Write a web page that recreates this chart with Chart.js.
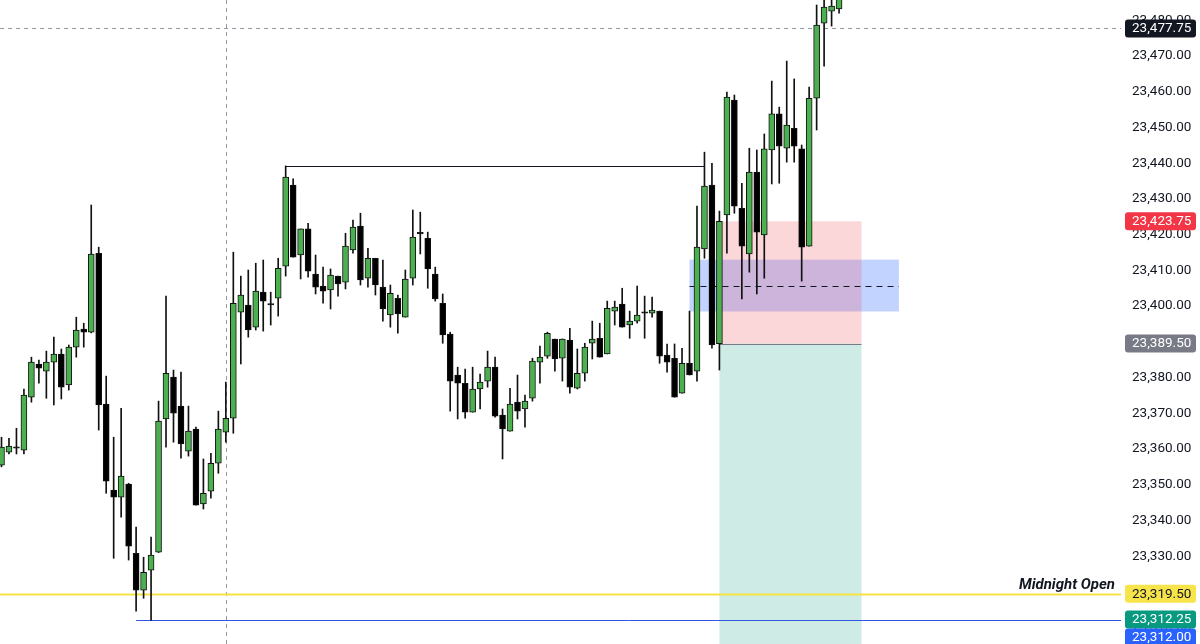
<!DOCTYPE html>
<html>
<head>
<meta charset="utf-8">
<script src="https://cdn.jsdelivr.net/npm/chart.js@4.4.1/dist/chart.umd.min.js"></script>
<style>
  html, body { margin: 0; padding: 0; background: #fff; }
  #wrap { width: 1200px; height: 644px; position: relative; }
</style>
</head>
<body>
<div id="wrap"><canvas id="priceChart"></canvas></div>
<script>
// candle values (1 candle = 1 slot)
const opens = [
  23355.5, 23359.1, 23360.2, 23359.7, 23374.5, 23383.8, 23381.8, 23384.3, 23386.6, 23377.9,
  23388.5, 23393.6, 23392.7, 23414.8, 23372.6, 23348.5, 23346.5, 23350.2, 23330.8, 23320.5,
  23326.1, 23331.1, 23368.4, 23380.1, 23372.0, 23359.4, 23365.6, 23344.6, 23348.2, 23356.0,
  23364.7, 23368.6, 23398.3, 23400.3, 23394.1, 23403.9, 23400.3, 23402.2, 23411.2, 23433.9,
  23414.3, 23421.6, 23409.0, 23405.6, 23404.5, 23408.4, 23406.7, 23415.7, 23422.4, 23407.8,
  23413.4, 23405.3, 23397.5, 23402.2, 23396.9, 23407.8, 23420.2, 23419.0, 23409.0, 23400.8,
  23392.2, 23380.7, 23378.4, 23370.3, 23376.8, 23379.0, 23382.9, 23369.5, 23365.0, 23373.1,
  23371.2, 23374.2, 23384.3, 23386.0, 23390.8, 23385.4, 23390.5, 23377.0, 23381.2, 23389.6,
  23391.0, 23386.6, 23398.6, 23400.6, 23394.7, 23395.8, 23398.0, 23398.0, 23398.6, 23386.3,
  23385.4, 23375.6, 23384.0, 23381.8, 23416.0, 23433.9, 23389.5, 23425.5, 23457.7, 23427.4,
  23414.6, 23437.5, 23419.9, 23443.7, 23453.8, 23444.2, 23449.8, 23444.0, 23416.8, 23458.2,
  23479.2, 23482.6, 23483.2
];
const highs = [
  23363.3, 23363.0, 23365.8, 23376.8, 23385.7, 23384.9, 23387.4, 23391.3, 23388.0, 23389.1,
  23396.9, 23395.2, 23428.3, 23416.5, 23380.4, 23363.3, 23371.4, 23350.4, 23338.1, 23329.7,
  23335.3, 23373.4, 23402.8, 23382.1, 23381.5, 23372.0, 23366.1, 23357.2, 23358.8, 23370.6,
  23378.7, 23415.1, 23408.4, 23410.1, 23412.0, 23412.9, 23403.9, 23413.4, 23439.25, 23435.6,
  23421.6, 23423.2, 23414.3, 23410.9, 23410.4, 23408.4, 23420.4, 23424.1, 23426.0, 23416.2,
  23413.4, 23412.9, 23405.9, 23403.1, 23410.1, 23426.9, 23426.3, 23420.7, 23410.9, 23403.4,
  23392.7, 23382.9, 23382.4, 23382.9, 23381.0, 23387.4, 23385.7, 23371.2, 23377.0, 23380.7,
  23375.1, 23385.4, 23388.8, 23392.7, 23390.8, 23390.8, 23393.8, 23388.0, 23389.6, 23395.8,
  23395.2, 23401.4, 23401.4, 23405.0, 23398.6, 23405.6, 23402.8, 23402.5, 23398.6, 23389.4,
  23389.4, 23388.2, 23398.6, 23428.0, 23443.1, 23440.0, 23426.6, 23459.9, 23459.1, 23434.4,
  23444.2, 23443.7, 23448.2, 23463.0, 23455.7, 23468.6, 23463.6, 23445.1, 23461.3, 23484.3,
  23490.0, 23490.0, 23490.0
];
const lows = [
  23355.0, 23358.6, 23358.6, 23358.6, 23373.1, 23378.4, 23374.2, 23372.3, 23374.0, 23376.5,
  23385.7, 23388.5, 23392.5, 23365.3, 23347.6, 23329.4, 23340.9, 23328.9, 23314.6, 23318.2,
  23312.0, 23331.0, 23360.5, 23361.9, 23357.4, 23358.0, 23344.3, 23343.2, 23346.2, 23353.2,
  23361.9, 23364.4, 23383.8, 23391.3, 23393.3, 23393.0, 23394.7, 23397.2, 23408.4, 23413.7,
  23407.6, 23408.1, 23403.4, 23400.8, 23399.2, 23402.8, 23404.8, 23414.8, 23405.9, 23405.3,
  23403.1, 23395.8, 23394.1, 23392.4, 23396.9, 23405.9, 23414.6, 23405.0, 23401.4, 23389.6,
  23370.6, 23368.4, 23368.6, 23370.3, 23371.2, 23377.3, 23368.9, 23357.2, 23365.0, 23368.4,
  23366.1, 23373.4, 23378.4, 23385.4, 23381.8, 23379.0, 23375.6, 23376.8, 23379.0, 23385.2,
  23385.7, 23386.6, 23394.7, 23394.1, 23391.0, 23395.2, 23391.0, 23396.9, 23384.0, 23381.5,
  23374.5, 23375.6, 23380.7, 23379.0, 23413.4, 23388.2, 23382.1, 23414.8, 23426.0, 23402.0,
  23409.5, 23403.4, 23407.8, 23434.2, 23434.4, 23440.3, 23440.3, 23407.0, 23416.8, 23449.3,
  23467.2, 23478.4, 23482.0
];
const closes = [
  23360.5, 23360.8, 23360.2, 23375.1, 23384.3, 23382.6, 23384.3, 23386.6, 23377.3, 23388.5,
  23393.3, 23392.7, 23414.6, 23372.3, 23351.0, 23346.5, 23352.4, 23332.8, 23320.5, 23325.5,
  23330.3, 23367.8, 23381.2, 23370.0, 23361.4, 23365.0, 23344.3, 23347.6, 23356.0, 23365.6,
  23368.6, 23400.8, 23403.1, 23393.3, 23404.2, 23401.4, 23400.3, 23410.6, 23436.1, 23413.7,
  23421.6, 23409.8, 23405.3, 23404.2, 23408.7, 23406.2, 23416.8, 23422.1, 23407.3, 23413.4,
  23405.9, 23399.2, 23403.6, 23397.8, 23407.6, 23419.3, 23420.2, 23410.4, 23402.0, 23391.9,
  23379.0, 23378.4, 23370.3, 23376.8, 23378.7, 23382.9, 23369.2, 23365.6, 23372.6, 23370.6,
  23373.4, 23384.6, 23385.7, 23392.4, 23385.2, 23390.8, 23377.3, 23381.2, 23388.5, 23390.8,
  23385.7, 23399.4, 23399.7, 23394.1, 23395.8, 23397.5, 23398.0, 23398.9, 23386.0, 23384.3,
  23374.5, 23384.0, 23380.7, 23416.5, 23433.6, 23389.1, 23423.75, 23458.5, 23428.0, 23416.8,
  23437.5, 23420.7, 23444.0, 23453.8, 23444.8, 23450.7, 23444.8, 23416.5, 23458.2, 23478.7,
  23483.7, 23484.0, 23490.0
];
const candleIdx = opens.map((_, i) => i);

// price axis
const yTicks = [23310, 23320, 23330, 23340, 23350, 23360, 23370, 23380, 23390, 23400,
                23410, 23420, 23430, 23440, 23450, 23460, 23470, 23480];
const yMin = 23305.4;
const yMax = 23485.7;

// drawn levels
const lastPrice = 23477.75;
const stopLevel = 23423.75;
const entryLevel = 23389.5;
const midnightOpen = 23319.5;
const targetLevel = 23312.25;
const sweptLow = 23312.0;
const prevHigh = 23439.25;
const gapTop = 23413.0;
const gapBottom = 23398.5;
const gapMid = 23405.75;

const GREEN = "#4caf50";
const fmt = (v) => v.toLocaleString("en-US", { minimumFractionDigits: 2, maximumFractionDigits: 2 });
const isUp = (i) => closes[i] > opens[i];

const overlays = {
  id: "overlays",
  beforeDatasetsDraw(chart) {
    const { ctx, chartArea: a, scales: { x, y } } = chart;
    ctx.save();
    ctx.beginPath();
    ctx.rect(a.left, a.top, a.right - a.left, a.bottom - a.top);
    ctx.clip();

    const box = (i0, i1, p0, p1, col) => {
      const x0 = x.getPixelForValue(i0), x1 = x.getPixelForValue(i1);
      const y0 = y.getPixelForValue(p0), y1 = y.getPixelForValue(p1);
      ctx.fillStyle = col;
      ctx.fillRect(x0, y0, x1 - x0, y1 - y0);
    };
    const hline = (i0, i1, p, col, w, dash) => {
      const yy = Math.round(y.getPixelForValue(p)) + 0.5;
      ctx.strokeStyle = col;
      ctx.lineWidth = w;
      ctx.setLineDash(dash || []);
      ctx.beginPath();
      ctx.moveTo(i0 === null ? a.left : x.getPixelForValue(i0), yy);
      ctx.lineTo(i1 === null ? a.right : x.getPixelForValue(i1), yy);
      ctx.stroke();
    };

    // session divider
    const vx = Math.round(x.getPixelForValue(30)) + 0.5;
    ctx.strokeStyle = "#9598a1";
    ctx.lineWidth = 1;
    ctx.setLineDash([4, 4]);
    ctx.beginPath();
    ctx.moveTo(vx, a.top);
    ctx.lineTo(vx, a.bottom);
    ctx.stroke();

    // fair value gap + position tool
    box(92, 120, gapTop, gapBottom, "rgba(41,98,255,0.28)");
    box(96, 115, stopLevel, entryLevel, "rgba(242,54,69,0.2)");
    box(96, 115, entryLevel, yMin, "rgba(8,153,129,0.2)");
    hline(96, 115, entryLevel, "#787b86", 1);
    hline(92, 120, gapMid, "#131722", 1, [6, 5]);

    hline(null, null, lastPrice, "#9598a1", 1, [4, 4]);
    hline(38, 94, prevHigh, "#131722", 1);
    hline(null, null, midnightOpen, "#f5e342", 2);
    hline(18, null, sweptLow, "#3056e0", 1);
    ctx.restore();
  },
  afterDraw(chart) {
    const { ctx, chartArea: a, scales: { y } } = chart;
    ctx.save();
    // label on the midnight open line
    ctx.font = "italic bold 15px Roboto";
    ctx.fillStyle = "#131722";
    ctx.textAlign = "right";
    ctx.textBaseline = "alphabetic";
    ctx.fillText("Midnight Open", a.right - 6, y.getPixelForValue(midnightOpen) - 5);

    // price badges on the axis
    const badges = [
      [lastPrice, "#131722", "#ffffff"],
      [stopLevel, "#f23645", "#ffffff"],
      [entryLevel, "#787b86", "#ffffff"],
      [midnightOpen, "#f7e34a", "#131722"],
      [targetLevel, "#089981", "#ffffff"],
      [sweptLow, "#2962ff", "#ffffff"],
    ];
    const h = 18;
    let prevBottom = -Infinity;
    ctx.textAlign = "left";
    ctx.textBaseline = "middle";
    ctx.font = "13.5px Roboto";
    badges.forEach(([v, bg, fg]) => {
      let top = y.getPixelForValue(v) - h / 2;
      if (top < prevBottom) top = prevBottom;
      prevBottom = top + h;
      ctx.fillStyle = bg;
      ctx.beginPath();
      ctx.roundRect(a.right + 4, top, 1196 - a.right - 4, h, 3);
      ctx.fill();
      ctx.fillStyle = fg;
      ctx.fillText(fmt(v), a.right + 11, top + h / 2 + 0.5);
    });
    ctx.restore();
  },
};

new Chart(document.getElementById("priceChart"), {
  type: "bar",
  data: {
    datasets: [
      {
        label: "body",
        data: candleIdx.map((i) => ({ x: i, y: [opens[i], closes[i]] })),
        backgroundColor: candleIdx.map((i) => (isUp(i) ? GREEN : "#000000")),
        borderColor: "#111111",
        borderWidth: 1,
        borderSkipped: false,
        barThickness: 6,
        minBarLength: 1.5,
        grouped: false,
        order: 1,
      },
      {
        label: "wick",
        data: candleIdx.map((i) => ({ x: i, y: [lows[i], highs[i]] })),
        backgroundColor: "#111111",
        borderWidth: 0,
        barThickness: 1,
        grouped: false,
        order: 2,
      },
    ],
  },
  options: {
    responsive: true,
    maintainAspectRatio: false,
    animation: false,
    layout: { padding: 0 },
    plugins: {
      legend: { display: false },
      tooltip: { enabled: false },
    },
    scales: {
      x: {
        type: "linear",
        display: false,
        offset: false,
        min: -0.2,
        max: 149.7,
        grid: { display: false },
      },
      y: {
        position: "right",
        min: yMin,
        max: yMax,
        grid: { display: false, drawTicks: false },
        border: { display: false },
        afterBuildTicks: (scale) => {
          scale.ticks = yTicks.map((v) => ({ value: v }));
        },
        afterFit: (scale) => {
          scale.width = 79;
          scale.paddingTop = 0;
          scale.paddingBottom = 0;
        },
        ticks: {
          padding: 11,
          color: "#131722",
          font: { family: "Roboto", size: 13.5 },
          callback: (v) => fmt(v),
        },
      },
    },
  },
  plugins: [overlays],
});
</script>
</body>
</html>
